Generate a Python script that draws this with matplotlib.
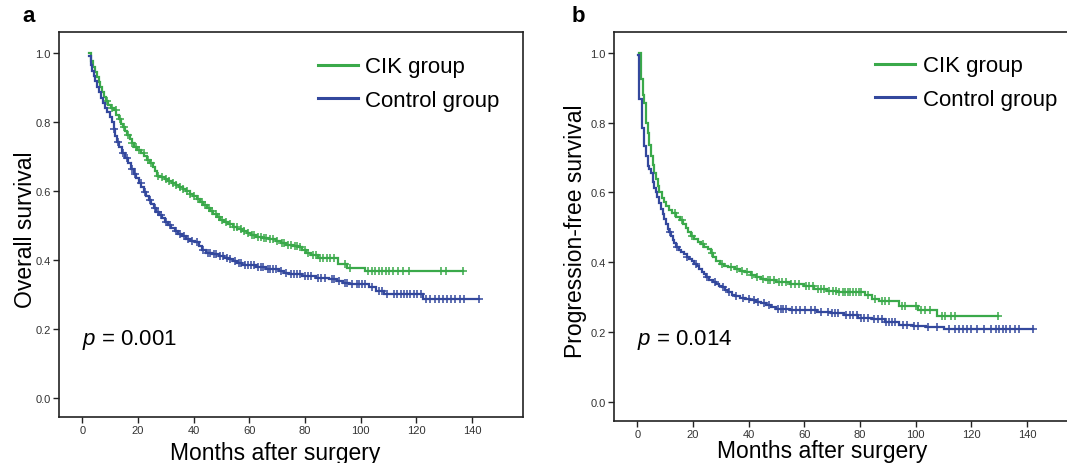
"""
Kaplan-Meier curves: CIK group vs control group
(a) overall survival, (b) progression-free survival
"""

import numpy as np
import matplotlib.pyplot as plt
from matplotlib.lines import Line2D

plt.rcParams["font.family"] = ["Liberation Sans", "DejaVu Sans"]
plt.rcParams["mathtext.fontset"] = "custom"
plt.rcParams["mathtext.rm"] = "Liberation Sans"
plt.rcParams["mathtext.it"] = "Liberation Sans:italic"

GREEN = "#3aa94a"
BLUE = "#33489d"

GROUPS = ["CIK group", "Control group"]
X_TICKS = [0, 20, 40, 60, 80, 100, 120, 140]
Y_TICKS = [0.0, 0.2, 0.4, 0.6, 0.8, 1.0]

# ---- (a) overall survival ----
os_cik_t = [2.5, 3.2, 3.9, 4.6, 5.2, 5.8, 6.4, 7.0, 7.6, 8.4, 9.2, 10.2, 11.3, 12.2, 13.0,
            13.8, 14.6, 15.4, 16.2, 17.0, 17.8, 18.7, 19.6, 21.0, 22.3, 23.3, 24.3, 25.3,
            26.0, 26.7, 28.0, 29.5, 30.8, 32.2, 33.5, 34.8, 36.0, 37.3, 38.6, 39.8, 41.0,
            42.2, 43.4, 44.6, 45.8, 47.0, 48.2, 49.5, 50.8, 52.3, 54.0, 55.6, 57.3, 59.0,
            60.5, 62.2, 64.5, 67.0, 69.4, 71.2, 73.0, 75.5, 77.5, 79.0, 80.5, 82.0, 84.5,
            91.8, 95.2, 101.7]
os_cik_s = [1.0, 0.975, 0.958, 0.944, 0.930, 0.916, 0.902, 0.887, 0.872, 0.860, 0.848,
            0.841, 0.833, 0.820, 0.807, 0.795, 0.784, 0.773, 0.762, 0.750, 0.739, 0.728,
            0.718, 0.710, 0.700, 0.690, 0.680, 0.670, 0.658, 0.644, 0.640, 0.634, 0.628,
            0.623, 0.618, 0.612, 0.606, 0.599, 0.592, 0.585, 0.576, 0.567, 0.558, 0.550,
            0.542, 0.533, 0.525, 0.517, 0.509, 0.503, 0.496, 0.490, 0.484, 0.477, 0.472,
            0.467, 0.464, 0.460, 0.455, 0.449, 0.443, 0.440, 0.436, 0.428, 0.420, 0.413,
            0.405, 0.388, 0.378, 0.367]
os_cik_end = 136.8
os_cik_cens = [9.0, 10.8, 12.0, 13.5, 15.0, 16.5, 18.0, 19.2, 20.5, 22.0, 23.5, 24.8, 27.2,
               28.5, 30.0, 31.2, 32.5, 33.8, 35.0, 36.3, 37.5, 38.8, 40.2, 41.5, 43.0, 44.2,
               45.5, 46.5, 48.0, 49.0, 50.2, 51.5, 53.0, 54.5, 55.5, 56.8, 58.0, 59.5, 60.8,
               61.8, 63.0, 64.0, 65.2, 66.0, 67.5, 68.5, 70.0, 71.8, 72.5, 74.0, 75.0, 76.2,
               77.0, 78.2, 80.0, 81.2, 83.0, 84.0, 85.5, 86.5, 88.0, 89.0, 90.5, 94.5, 96.0,
               102.5, 104.0, 105.2, 106.5, 107.5, 109.0, 110.2, 111.5, 113.5, 115.0, 117.5,
               129.0, 130.5, 136.8]

os_ctl_t = [2.5, 3.0, 3.5, 4.1, 4.7, 5.3, 5.9, 6.6, 7.4, 8.2, 9.0, 9.8, 10.5, 11.2, 11.8,
            12.4, 13.2, 14.1, 15.2, 16.4, 17.4, 18.4, 19.4, 20.3, 21.2, 22.1, 23.0, 23.9,
            24.8, 25.7, 26.6, 27.6, 28.6, 29.6, 30.8, 32.0, 33.2, 34.4, 35.8, 37.3, 38.8,
            40.5, 41.8, 42.9, 44.5, 46.5, 48.9, 51.0, 52.6, 54.0, 55.5, 57.4, 62.2, 65.8,
            70.6, 72.5, 74.2, 79.0, 83.8, 88.6, 91.5, 93.5, 95.9, 103.1, 105.5, 108.5, 122.5]
os_ctl_s = [0.99, 0.965, 0.948, 0.933, 0.918, 0.902, 0.886, 0.870, 0.855, 0.840, 0.828,
            0.815, 0.800, 0.778, 0.760, 0.742, 0.728, 0.710, 0.694, 0.680, 0.664, 0.650,
            0.636, 0.622, 0.610, 0.598, 0.586, 0.574, 0.562, 0.550, 0.540, 0.530, 0.520,
            0.511, 0.502, 0.492, 0.484, 0.475, 0.468, 0.460, 0.455, 0.451, 0.440, 0.428,
            0.420, 0.416, 0.412, 0.407, 0.402, 0.396, 0.390, 0.384, 0.380, 0.375, 0.368,
            0.363, 0.359, 0.354, 0.349, 0.344, 0.338, 0.333, 0.330, 0.321, 0.311, 0.300,
            0.286]
os_ctl_end = 142.5
os_ctl_cens = [11.5, 12.8, 14.5, 16.0, 17.8, 19.0, 21.0, 22.5, 24.2, 26.0, 27.0, 28.2,
               30.2, 31.5, 33.8, 35.2, 36.5, 38.0, 39.5, 41.0, 43.5, 45.0, 46.0, 47.2, 48.0,
               49.5, 50.5, 52.0, 53.2, 54.8, 56.2, 57.0, 58.5, 59.5, 60.5, 61.5, 63.0, 64.2,
               65.0, 66.5, 67.5, 68.5, 69.5, 71.5, 73.0, 75.0, 76.0, 77.0, 78.2, 80.0, 81.0,
               82.2, 84.8, 85.8, 87.0, 89.5, 90.5, 92.2, 94.2, 95.2, 97.0, 98.5, 99.5, 100.5,
               101.5, 104.2, 106.5, 107.5, 109.5, 112.0, 113.2, 114.5, 115.5, 116.5, 117.8,
               119.0, 120.2, 121.5, 123.5, 125.0, 126.5, 128.0, 129.5, 131.0, 132.5, 134.0,
               135.5, 137.0, 142.5]

# ---- (b) progression-free survival ----
pfs_cik_t = [0.45, 1.3, 2.0, 2.5, 3.1, 3.7, 4.3, 4.9, 5.5, 6.1, 6.7, 7.3, 7.9, 8.7, 9.5,
             10.3, 11.3, 12.5, 13.9, 15.2, 16.4, 17.4, 18.3, 19.3, 20.5, 21.7, 22.9, 24.1,
             25.4, 26.3, 27.2, 28.4, 29.7, 31.2, 32.7, 35.2, 37.0, 38.8, 40.7, 42.6, 44.4,
             46.2, 49.9, 54.8, 59.7, 63.4, 68.3, 71.9, 81.8, 84.2, 86.7, 94.0, 100.8, 107.5]
pfs_cik_s = [1.0, 0.924, 0.880, 0.857, 0.800, 0.770, 0.735, 0.705, 0.680, 0.657, 0.638,
             0.620, 0.600, 0.585, 0.572, 0.560, 0.550, 0.540, 0.530, 0.520, 0.509, 0.497,
             0.486, 0.476, 0.467, 0.459, 0.452, 0.445, 0.438, 0.426, 0.414, 0.404, 0.395,
             0.390, 0.386, 0.381, 0.376, 0.371, 0.364, 0.357, 0.352, 0.348, 0.343, 0.338,
             0.333, 0.324, 0.319, 0.314, 0.305, 0.295, 0.290, 0.276, 0.262, 0.245]
pfs_cik_end = 129.6
pfs_cik_cens = [13.5, 16.0, 19.5, 23.5, 26.8, 30.5, 33.5, 35.8, 37.5, 39.5, 41.2, 43.0,
                45.0, 46.8, 47.8, 49.0, 50.8, 52.0, 53.5, 55.2, 56.5, 58.0, 60.5, 61.8, 63.0,
                64.8, 65.8, 67.0, 69.0, 70.2, 71.2, 72.5, 73.8, 74.5, 75.5, 76.5, 77.5, 78.5,
                79.5, 80.5, 83.0, 85.5, 88.0, 89.0, 90.5, 95.0, 96.0, 100.2, 102.0, 103.5,
                105.0, 109.5, 110.5, 112.8, 114.0, 129.6]

pfs_ctl_t = [0.4, 0.6, 1.7, 2.5, 3.1, 3.7, 4.3, 4.9, 5.5, 6.1, 6.7, 7.2, 7.7, 8.5, 9.1,
             9.7, 10.3, 10.9, 11.5, 12.1, 12.7, 13.3, 13.9, 14.8, 15.7, 16.7, 17.7, 18.7,
             19.6, 20.5, 21.4, 22.3, 23.1, 23.9, 24.7, 25.9, 27.1, 28.3, 29.3, 30.3, 31.5,
             32.7, 34.0, 35.2, 37.0, 38.8, 40.5, 42.5, 44.3, 46.2, 48.0, 49.9, 54.8, 59.7,
             64.6, 69.5, 74.4, 79.3, 84.2, 89.1, 94.0, 98.9, 103.8, 110.0]
pfs_ctl_s = [0.995, 0.867, 0.786, 0.733, 0.705, 0.676, 0.666, 0.657, 0.629, 0.614, 0.600,
             0.586, 0.571, 0.552, 0.538, 0.524, 0.510, 0.495, 0.486, 0.476, 0.465, 0.454,
             0.443, 0.436, 0.429, 0.423, 0.416, 0.410, 0.403, 0.396, 0.389, 0.381, 0.373,
             0.365, 0.357, 0.350, 0.344, 0.338, 0.333, 0.329, 0.321, 0.314, 0.307, 0.302,
             0.298, 0.295, 0.291, 0.286, 0.282, 0.278, 0.272, 0.267, 0.264, 0.262, 0.257,
             0.255, 0.248, 0.240, 0.236, 0.230, 0.221, 0.217, 0.214, 0.209]
pfs_ctl_end = 142.2
pfs_ctl_cens = [11.8, 14.2, 18.0, 21.0, 25.0, 27.8, 30.8, 33.0, 35.5, 38.0, 40.0, 42.0,
                43.5, 45.5, 47.2, 50.5, 51.5, 52.5, 53.5, 55.5, 57.0, 58.5, 60.2, 62.5, 64.0,
                66.0, 68.5, 70.0, 71.0, 72.0, 75.0, 76.5, 77.5, 78.8, 80.2, 81.5, 83.0, 85.0,
                86.5, 87.8, 89.5, 90.5, 91.5, 92.5, 95.5, 97.0, 99.5, 101.0, 104.5, 107.5,
                112.0, 114.0, 115.5, 117.0, 118.5, 120.0, 122.0, 124.5, 127.0, 129.0, 130.0,
                131.2, 132.5, 134.0, 135.5, 137.0, 142.2]


def km_curve(ax, t, s, t_end, cens, color):
    """Step curve plus censor ticks."""
    t = np.asarray(t + [t_end])
    s = np.asarray(s + [s[-1]])
    ax.step(t, s, where="post", color=color, lw=1.6, solid_joinstyle="miter")
    cens = np.asarray(cens)
    idx = np.searchsorted(t, cens, side="right") - 1
    ax.plot(cens, s[idx], ls="none", marker="+", ms=6, mew=1.1, color=color)


def style_axes(ax, ylabel, xlabel_y, xlabel_x, ylabel_x):
    ax.set_xlim(-8.4, 158.3)
    ax.set_ylim(-0.055, 1.06)
    ax.set_xticks(X_TICKS)
    ax.set_yticks(Y_TICKS)
    ax.set_yticklabels([f"{v:.1f}" for v in Y_TICKS])
    ax.tick_params(direction="out", length=4, width=1, labelsize=8,
                   labelcolor="#333333", color="#222222", pad=2)
    for sp in ax.spines.values():
        sp.set_linewidth(1.2)
        sp.set_color("#222222")
    ax.set_xlabel("Months after surgery", fontsize=16.5)
    ax.set_ylabel(ylabel, fontsize=16.5)
    ax.xaxis.set_label_coords(xlabel_x, xlabel_y)
    ax.yaxis.set_label_coords(ylabel_x, 0.49)


fig = plt.figure(figsize=(10.67, 4.64), dpi=100)
ax_a = fig.add_axes([0.0553, 0.0991, 0.4349, 0.8297])
ax_b = fig.add_axes([0.5754, 0.0905, 0.4349, 0.8384])

km_curve(ax_a, os_cik_t, os_cik_s, os_cik_end, os_cik_cens, GREEN)
km_curve(ax_a, os_ctl_t, os_ctl_s, os_ctl_end, os_ctl_cens, BLUE)
km_curve(ax_b, pfs_cik_t, pfs_cik_s, pfs_cik_end, pfs_cik_cens, GREEN)
km_curve(ax_b, pfs_ctl_t, pfs_ctl_s, pfs_ctl_end, pfs_ctl_cens, BLUE)

style_axes(ax_a, "Overall survival", -0.063, 0.466, -0.048)
style_axes(ax_b, "Progression-free survival", -0.047, 0.448, -0.058)

handles = [Line2D([], [], color=GREEN, lw=2.2), Line2D([], [], color=BLUE, lw=2.2)]
for ax, anchor in [(ax_a, (0.95, 0.937)), (ax_b, (0.955, 0.94))]:
    ax.legend(handles, GROUPS, loc="upper right", bbox_to_anchor=anchor,
              frameon=False, fontsize=16, handlelength=1.8, handletextpad=0.35,
              labelspacing=0.55, borderpad=0, borderaxespad=0)

ax_a.text(0, 0.17, "$p$ = 0.001", fontsize=16, va="center", ha="left")
ax_b.text(0, 0.18, "$p$ = 0.014", fontsize=16, va="center", ha="left")

fig.text(22 / 1067, 1 - 17 / 464, "a", fontsize=16, fontweight="bold", va="center")
fig.text(572 / 1067, 1 - 17 / 464, "b", fontsize=16, fontweight="bold", va="center")

fig.savefig("out.png", dpi=100)
